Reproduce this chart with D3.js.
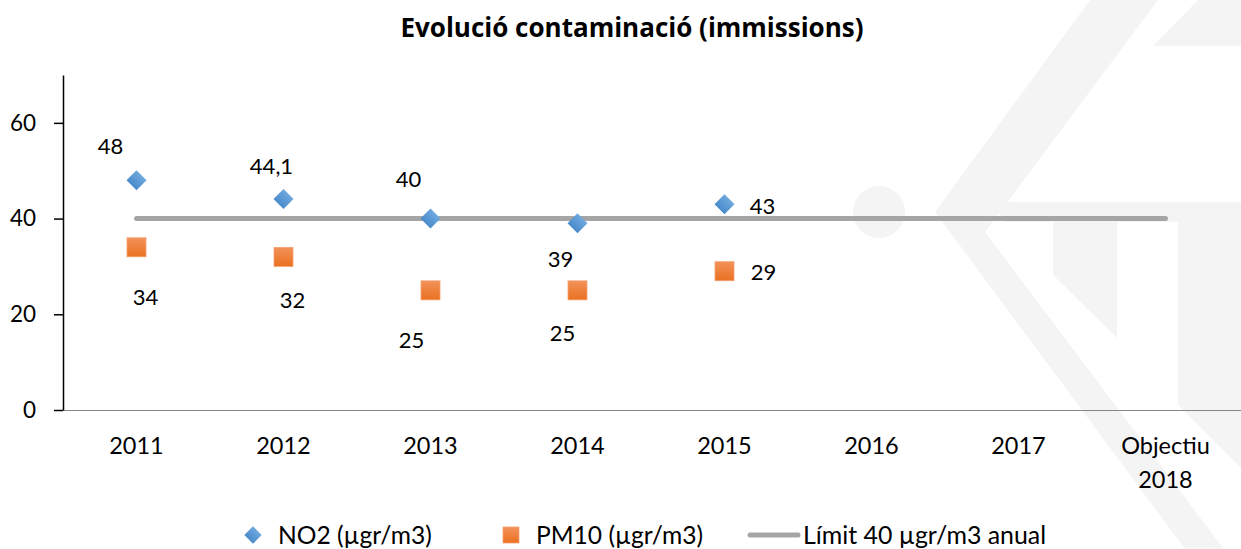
<!DOCTYPE html>
<html><head><meta charset="utf-8">
<script src="https://cdn.jsdelivr.net/npm/d3@7"></script>
<style>
body{margin:0;background:#fff;}
text{font-family:Lato,"Open Sans",sans-serif;fill:#000;}
</style>
</head><body>
<svg id="chart" width="1241" height="549"></svg>
<script>
// ---- data ----
const title = "Evolució contaminació (immissions)";
const categories = ["2011","2012","2013","2014","2015","2016","2017","Objectiu 2018"];
const no2Values  = [48, 44.1, 40, 39, 43, null, null, null];
const pm10Values = [34, 32, 25, 25, 29, null, null, null];
const limitValues = [40, 40, 40, 40, 40, 40, 40, 40];
const yTicks = [0, 20, 40, 60];
const seriesNames = ["NO2 (µgr/m3)", "PM10 (µgr/m3)", "Límit 40 µgr/m3 anual"];
// data-label offsets (pixels from the marker)
const no2LabelOffsets  = [[-26,-34],[-12,-33],[-22,-39],[-17,36],[38,2]];
const pm10LabelOffsets = [[9,50],[9,43],[-19,50],[-15,43],[39,1]];

const W = 1241, H = 549;
const svg = d3.select("#chart");
const fmt = d3.formatLocale({decimal:",", thousands:".", grouping:[3], currency:["","€"]}).format("~r");

// ---- watermark ----
const wm = svg.append("g").attr("fill","#f4f4f4");
const wmShapes = [
  [[1198,0],[1241,0],[1241,46],[1153,46]],
  [[1090,0],[1158,0],[985,232],[1241,572],[1241,549],[1185,549],[935,212]],
  [[990,202],[1241,202],[1241,468],[1178,405],[1178,222],[1117,222],[1117,338],[1053,275],[1053,222],[1005,222]]
];
wmShapes.forEach(p => wm.append("path").attr("d", d3.line()(p) + "Z"));
wm.append("circle").attr("cx",879).attr("cy",212).attr("r",26);

// ---- defs ----
const defs = svg.append("defs");
const gb = defs.append("linearGradient").attr("id","gBlue").attr("x1",0).attr("y1",0).attr("x2",0).attr("y2",1);
gb.append("stop").attr("offset","0%").attr("stop-color","#6ea8de");
gb.append("stop").attr("offset","100%").attr("stop-color","#4a8bcb");
const go = defs.append("linearGradient").attr("id","gOrange").attr("x1",0).attr("y1",0).attr("x2",0).attr("y2",1);
go.append("stop").attr("offset","0%").attr("stop-color","#f2925a");
go.append("stop").attr("offset","100%").attr("stop-color","#ea7020");

// ---- scales ----
const x = d3.scaleBand().domain(categories).range([63, 1239]);
const y = d3.scaleLinear().domain([0, 70]).range([410, 75]);
const cx = c => x(c) + x.bandwidth()/2;

// ---- title ----
svg.append("text").attr("x", 632).attr("y", 37).attr("text-anchor","middle")
  .style("font-family","'Open Sans',Lato,sans-serif")
  .style("font-weight","bold").style("font-size","26px").text(title);

// ---- x axis ----
const xAxis = svg.append("g").attr("transform",`translate(0,${y(0)})`)
  .call(d3.axisBottom(x).tickSize(0).tickPadding(0).tickSizeOuter(0));
xAxis.select(".domain").attr("stroke","#868686").attr("stroke-width",1)
  .attr("d", `M${x.range()[0]},0.5H${W}`);
xAxis.selectAll(".tick text").each(function(d){
  const t = d3.select(this).text("").attr("y", 0).attr("dy", null)
    .style("font-size","23.5px");
  d.split(" ").forEach((w,i) => t.append("tspan").attr("x",0).attr("y", 44 + i*34).text(w));
});

// ---- y axis ----
const yAxis = svg.append("g").attr("transform",`translate(${x.range()[0]},0)`)
  .call(d3.axisLeft(y).tickValues(yTicks).tickSize(9).tickPadding(18).tickSizeOuter(0));
yAxis.select(".domain").attr("stroke","#000").attr("stroke-width",1.5);
yAxis.selectAll(".tick line").attr("stroke","#000").attr("stroke-width",1.5);
yAxis.selectAll(".tick text").style("font-size","22.5px");

// ---- limit line ----
const limitData = categories.map((c,i)=>({c, v:limitValues[i]}));
svg.append("path").datum(limitData)
  .attr("fill","none").attr("stroke","#a5a5a5").attr("stroke-width",5).attr("stroke-linecap","round")
  .attr("d", d3.line().x(d=>cx(d.c)).y(d=>y(d.v)));

// ---- NO2 diamonds ----
const no2 = categories.map((c,i)=>({c, v:no2Values[i], i})).filter(d=>d.v!=null);
const diamond = d3.symbol().type(d3.symbolSquare).size(200);
svg.append("g").selectAll("path").data(no2).join("path")
  .attr("transform", d=>`translate(${cx(d.c)},${y(d.v)}) rotate(45)`)
  .attr("d", diamond).attr("fill","url(#gBlue)");
svg.append("g").selectAll("text").data(no2).join("text")
  .attr("x", d=>cx(d.c)+no2LabelOffsets[d.i][0]).attr("y", d=>y(d.v)+no2LabelOffsets[d.i][1])
  .attr("dy","0.36em").attr("text-anchor","middle").style("font-size","22px")
  .text(d=>fmt(d.v));

// ---- PM10 squares ----
const pm = categories.map((c,i)=>({c, v:pm10Values[i], i})).filter(d=>d.v!=null);
const sq = 19;
svg.append("g").selectAll("rect").data(pm).join("rect")
  .attr("x", d=>cx(d.c)-sq/2).attr("y", d=>y(d.v)-sq/2).attr("width",sq).attr("height",sq)
  .attr("fill","url(#gOrange)").attr("stroke","#f4a070").attr("stroke-width",0.8);
svg.append("g").selectAll("text").data(pm).join("text")
  .attr("x", d=>cx(d.c)+pm10LabelOffsets[d.i][0]).attr("y", d=>y(d.v)+pm10LabelOffsets[d.i][1])
  .attr("dy","0.36em").attr("text-anchor","middle").style("font-size","22px")
  .text(d=>fmt(d.v));

// ---- legend ----
const lg = svg.append("g").attr("transform","translate(0,535)");
lg.append("path").attr("transform","translate(253,0) rotate(45)")
  .attr("d", d3.symbol().type(d3.symbolSquare).size(150)).attr("fill","url(#gBlue)");
lg.append("text").attr("x",278).attr("dy","0.36em").style("font-size","24.6px").text(seriesNames[0]);
lg.append("rect").attr("x",503).attr("y",-8).attr("width",16).attr("height",16)
  .attr("fill","url(#gOrange)").attr("stroke","#f4a070").attr("stroke-width",0.8);
lg.append("text").attr("x",536).attr("dy","0.36em").style("font-size","24.6px").text(seriesNames[1]);
lg.append("line").attr("x1",750).attr("x2",798).attr("y1",0).attr("y2",0)
  .attr("stroke","#a5a5a5").attr("stroke-width",5).attr("stroke-linecap","round");
lg.append("text").attr("x",803).attr("dy","0.36em").style("font-size","24.9px").text(seriesNames[2]);
</script>
</body></html>
